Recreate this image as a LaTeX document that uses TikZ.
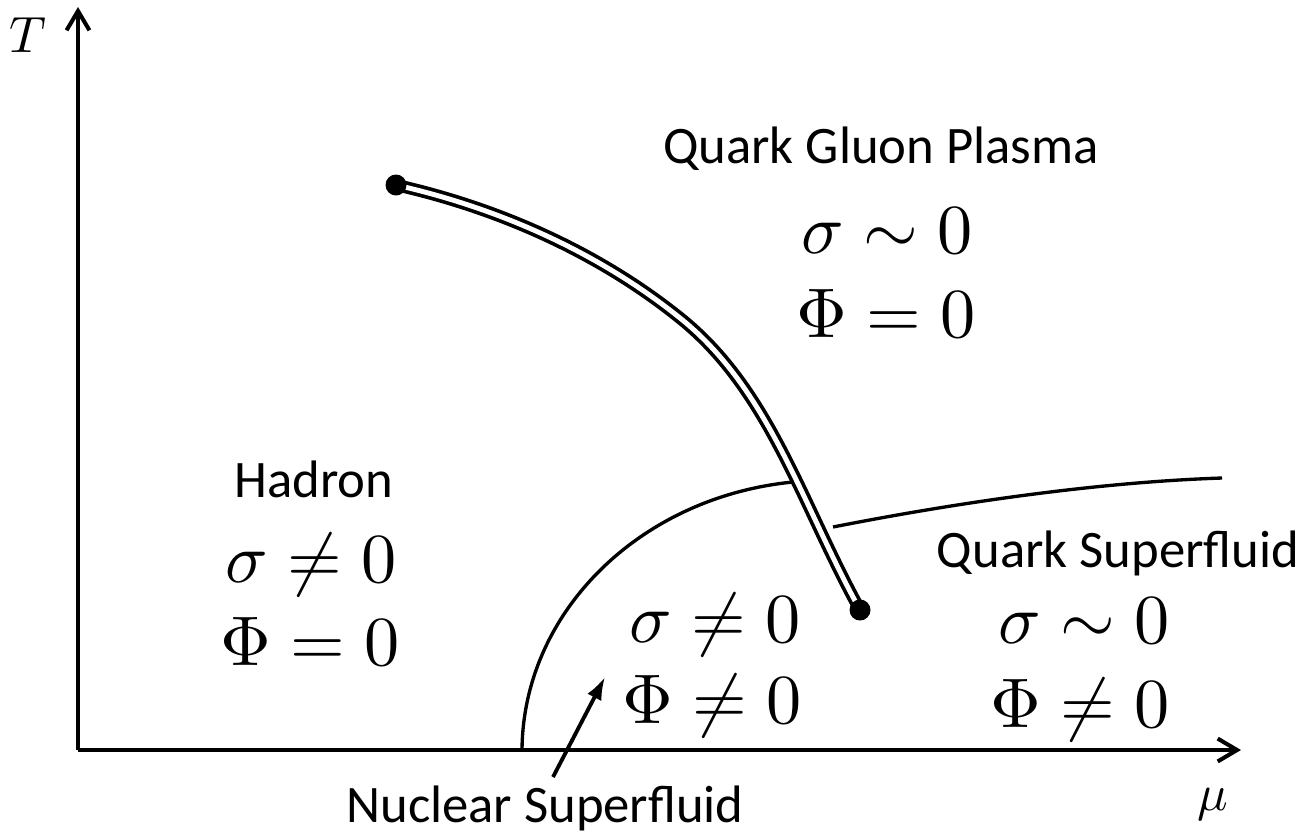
\documentclass[tikz,border=0pt]{standalone}
\usepackage{fontspec}
\newfontfamily\calib{Carlito}
\usetikzlibrary{arrows.meta}
\pgfdeclarelayer{bg}
\pgfsetlayers{bg,main}
\begin{document}
\begin{tikzpicture}[x=0.02cm,y=-0.02cm,
  sanslbl/.style={font=\calib\fontsize{30}{36}\selectfont, inner sep=0pt, anchor=base},
  mathlbl/.style={font=\fontsize{10}{12}\selectfont, inner sep=0pt, anchor=base, scale=4, transform shape},
  axislbl/.style={font=\fontsize{10}{12}\selectfont, inner sep=0pt, anchor=base, scale=2.9, transform shape},
  axisline/.style={line width=2.3pt, -{Straight Barb[length=11pt,width=13pt]}},
  boundary/.style={line width=1.9pt},
  crossover/.style={line width=2.1pt, double=white, double distance=2.8pt},
  endpoint/.style={circle, fill=black, inner sep=0pt, minimum size=0.42cm},
  pointer/.style={line width=2.2pt, -{Latex[length=13pt,width=9pt]}}]
\useasboundingbox (0,0) rectangle (1307,836);
% axes
\coordinate (O) at (78,750);
\coordinate (Ytip) at (78,7);
\coordinate (Xtip) at (1241,750);
\draw[axisline] (O) -- (Ytip);
\draw[axisline] (O) -- (Xtip);
\node[axislbl] (Tlbl) at (28,52) {$T$};
\node[axislbl] (mulbl) at (1213,810) {$\mu$};
% end points of the first-order line
\node[endpoint] (cp1) at (396,185) {};
\node[endpoint] (cp2) at (860,610) {};
\coordinate (mid) at (680,318);
\begin{pgfonlayer}{bg}
\draw[crossover] (cp1.center) .. controls (498,208) and (598,252) .. (mid)
  .. controls (770,390) and (802,505) .. (cp2.center);
\end{pgfonlayer}
% phase boundaries
\coordinate (nA) at (522,750);
\coordinate (nB) at (793,482);
\coordinate (qA) at (833,527);
\coordinate (qB) at (1222,478);
\draw[boundary] (nA) .. controls (523,612) and (640,497) .. (nB);
\draw[boundary] (qA) .. controls (960,502) and (1100,482) .. (qB);
% labels
\node[sanslbl] (qgp) at (881,163) {Quark Gluon Plasma};
\node[mathlbl] (qgp1) at (887,253) {$\sigma\sim0$};
\node[mathlbl] (qgp2) at (886,337) {$\Phi=0$};
\node[sanslbl] (had) at (314,497) {Hadron};
\node[mathlbl] (had1) at (311,582) {$\sigma\neq0$};
\node[mathlbl] (had2) at (310,665) {$\Phi=0$};
\node[mathlbl] (nsf1) at (715,642) {$\sigma\neq0$};
\node[mathlbl] (nsf2) at (712,723) {$\Phi\neq0$};
\node[sanslbl] (qsf) at (1118,567) {Quark Superfluid};
\node[mathlbl] (qsf1) at (1084,643) {$\sigma\sim0$};
\node[mathlbl] (qsf2) at (1080,727) {$\Phi\neq0$};
\node[sanslbl] (nsf) at (545,822) {Nuclear Superfluid};
\coordinate (arrTail) at (553,777);
\coordinate (arrHead) at (605,677);
\draw[pointer] (arrTail) -- (arrHead);
\end{tikzpicture}
\end{document}
